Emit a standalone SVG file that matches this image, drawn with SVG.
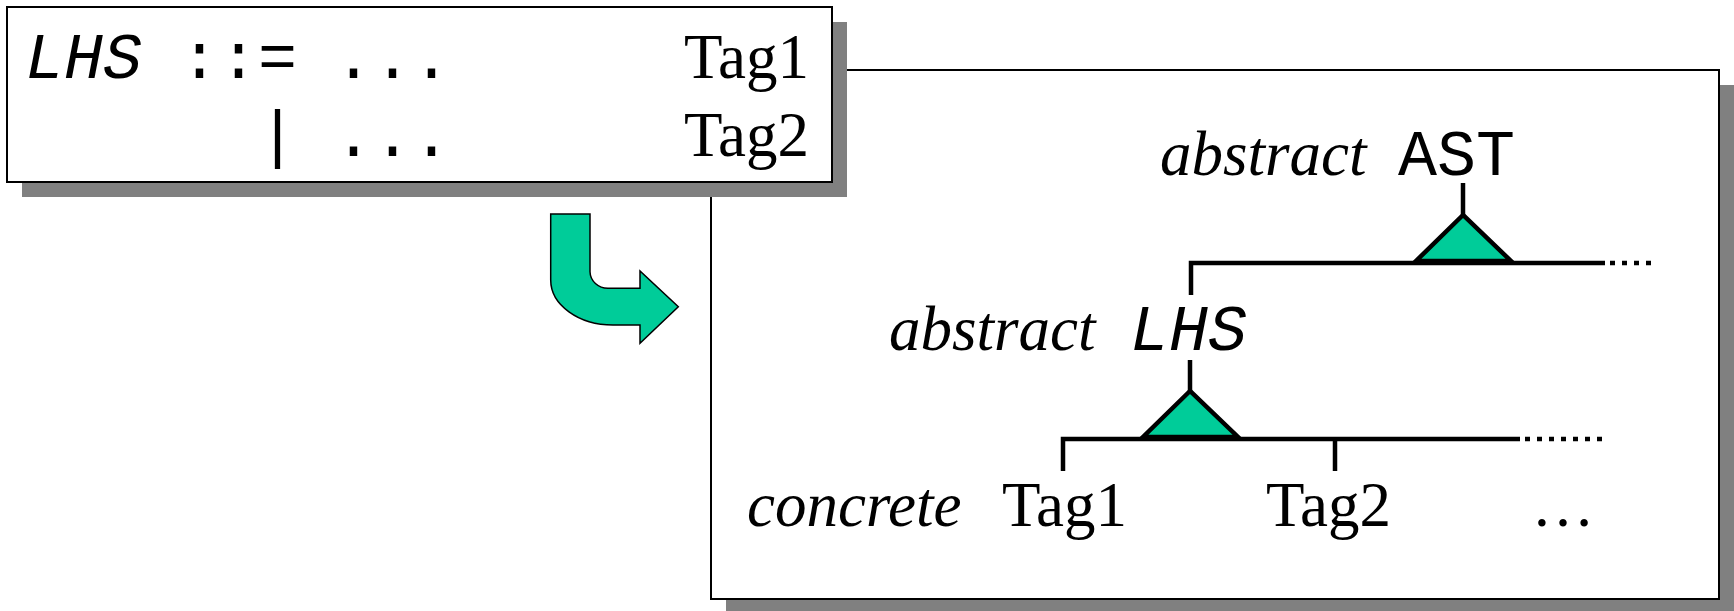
<svg xmlns="http://www.w3.org/2000/svg" width="1734" height="611" viewBox="0 0 1734 611">
  <style>
    .shadow { fill: #808080; }
    .panel { fill: #ffffff; stroke: #000000; stroke-width: 2; }
    .serif { font-family: "Liberation Serif", "Times New Roman", serif; font-size: 63px; fill: #000; }
    .ital { font-style: italic; }
    .mono { font-family: "Liberation Mono", "Courier New", monospace; font-size: 65px; fill: #000; }
    .edge { fill: none; stroke: #000; stroke-width: 4.5; stroke-linejoin: miter; stroke-linecap: butt; }
    .dots { fill: none; stroke: #000; stroke-width: 4.5; stroke-dasharray: 5 7; }
    .tri { fill: #00CC99; stroke: #000; stroke-width: 4.5; stroke-linejoin: miter; }
    .bend { fill: #00CC99; stroke: #000; stroke-width: 1.5; }
  </style>

  <!-- right panel: class hierarchy -->
  <g id="hierarchy-panel">
    <rect class="shadow" x="726" y="85" width="1008" height="529"/>
    <rect class="panel" x="711" y="70" width="1008" height="529"/>
  </g>

  <!-- tree edges -->
  <g id="connectors">
    <!-- AST children bar -->
    <path class="edge" d="M1463,183 V216"/>
    <path class="edge" d="M1191,295 V263 H1605"/>
    <line class="dots" x1="1610" y1="263" x2="1655" y2="263"/>
    <!-- LHS children bar -->
    <path class="edge" d="M1190,360 V392"/>
    <path class="edge" d="M1063,471 V439 H1520"/>
    <path class="edge" d="M1335,439 V471"/>
    <line class="dots" x1="1525" y1="439" x2="1604" y2="439"/>
  </g>

  <g id="node-ast">
    <text class="serif ital" x="1160" y="175">abstract</text>
    <text class="mono" x="1398" y="175">AST</text>
    <polygon class="tri" points="1463,215 1416,261 1511,261"/>
  </g>

  <g id="node-lhs">
    <text class="serif ital" x="889" y="350">abstract</text>
    <text class="mono ital" x="1130" y="350">LHS</text>
    <polygon class="tri" points="1190,391 1143,437 1238,437"/>
  </g>

  <g id="node-concrete">
    <text class="serif ital" x="747" y="526">concrete</text>
    <text class="serif" x="1002" y="526">Tag1</text>
    <text class="serif" x="1266" y="526">Tag2</text>
    <text class="serif" x="1563" y="526" text-anchor="middle">…</text>
  </g>

  <!-- left panel: grammar rule -->
  <g id="grammar-panel">
    <rect class="shadow" x="22" y="22" width="825" height="175"/>
    <rect class="panel" x="7" y="7" width="825" height="175"/>
    <text class="mono ital" x="25" y="78">LHS</text>
    <text class="mono" x="180" y="78">::=</text>
    <text class="mono" x="334" y="78">...</text>
    <text class="serif" x="809" y="78" text-anchor="end">Tag1</text>
    <text class="mono" x="258" y="156">|</text>
    <text class="mono" x="334" y="156">...</text>
    <text class="serif" x="809" y="156" text-anchor="end">Tag2</text>
  </g>

  <!-- bent arrow from rule to hierarchy -->
  <g id="transform-arrow">
    <path class="bend" d="M550.7,214 H590 V271.7 A18,17 0 0 0 608,288.3 H640 V271 L678.3,306.7 L640,343.3 V325 H613 A62.3,45 0 0 1 550.7,280 Z"/>
  </g>
</svg>
